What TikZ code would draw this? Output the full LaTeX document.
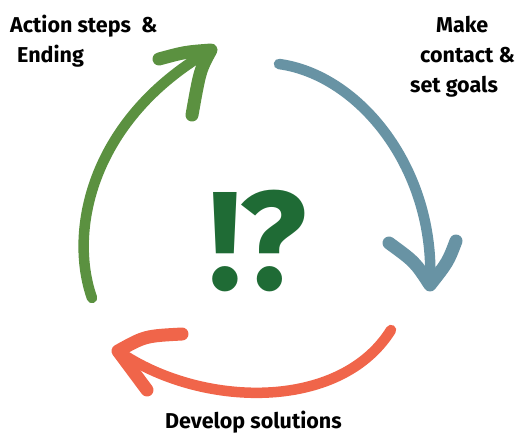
\documentclass[tikz,border=0pt]{standalone}
\usepackage{fontspec}
\setmainfont{Fira Sans}
\definecolor{cgreen}{HTML}{5B9140}
\definecolor{cblue}{HTML}{6893A4}
\definecolor{cred}{HTML}{F0654A}
\definecolor{cdark}{HTML}{1F6B35}
\begin{document}
\begin{tikzpicture}[x=1pt,y=-1pt,
  arcline/.style={line width=10.5pt,line cap=round},
  barb/.style={line width=13pt,line cap=round,line join=round},
  lbl/.style={font=\fontsize{21.5}{26}\selectfont\bfseries,anchor=base west,inner sep=0pt,text=black}]
\useasboundingbox (0,0) rectangle (520,434);
% coordinates
\coordinate (gs) at (92,298);
\coordinate (gt) at (211,50);
\coordinate (gb1) at (159,59);
\coordinate (gb2) at (192,115);
\coordinate (bs) at (279,64);
\coordinate (bt) at (430,285);
\coordinate (bb1) at (389,243);
\coordinate (bb2) at (456,241);
\coordinate (rs) at (391,330);
\coordinate (rt) at (118,351);
\coordinate (rb1) at (182,334);
\coordinate (rb2) at (147,390);
% green
\draw[cgreen,arcline] (gs) .. controls (68,230) and (92,118) .. (gt);
\draw[cgreen,barb] (gb1) .. controls (185,52) .. (gt) .. controls (200,70) .. (gb2);
% blue
\draw[cblue,arcline] (bs) .. controls (360,75) and (436,170) .. (bt);
\draw[cblue,barb] (bb1) .. controls (415,262) .. (bt) .. controls (448,262) .. (bb2);
% red
\draw[cred,arcline] (rs) .. controls (340,412) and (200,408) .. (rt);
\draw[cred,barb] (rb1) .. controls (145,336) .. (rt) .. controls (132,370) .. (rb2);
% center symbol
\node[font=\fontsize{140}{150}\selectfont\bfseries,text=cdark,inner sep=0pt] (sym) at (258,241) {!?};
% labels
\node[lbl] (l1a) at (10,32) {Action steps\ \ \&};
\node[lbl] (l1b) at (17,62) {Ending};
\node[lbl] (l2a) at (436,32) {Make};
\node[lbl] (l2b) at (420,62) {contact \&};
\node[lbl] (l2c) at (410,92) {set goals};
\node[lbl] (l3) at (165,428) {Develop solutions};
\end{tikzpicture}
\end{document}
